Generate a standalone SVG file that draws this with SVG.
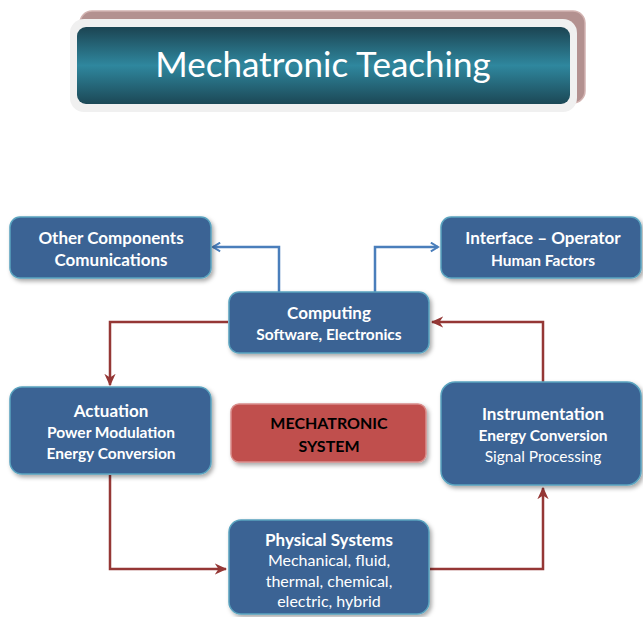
<svg xmlns="http://www.w3.org/2000/svg" width="643" height="617" viewBox="0 0 643 617">
<style>
.box{fill:#3a6494;stroke:#5aa3bf;stroke-width:1.5;filter:url(#sh)}
.red{fill:#c0504d;stroke:#d98c8a;stroke-width:1.5;filter:url(#sh)}
text{font-family:Lato,"Open Sans","Liberation Sans",sans-serif;text-anchor:middle;fill:#ffffff}
.b16{font-size:17px;font-weight:bold}
.b14{font-size:15.5px;font-weight:bold}
.r14{font-size:15.5px}
.r16{font-size:16px}
.blk{fill:#000000;font-size:16px}
.bl{fill:none;stroke:#4a7ebb;stroke-width:2.5}
.rd{fill:none;stroke:#953735;stroke-width:2.5}
</style>
<defs>
<filter id="sh" x="-10%" y="-10%" width="125%" height="130%">
<feDropShadow dx="2" dy="2.5" stdDeviation="2" flood-color="#000" flood-opacity="0.35"/>
</filter>
<linearGradient id="tg" x1="0" y1="0" x2="0" y2="1">
<stop offset="0" stop-color="#1c4452"/>
<stop offset="0.5" stop-color="#2f879e"/>
<stop offset="1" stop-color="#1c4856"/>
</linearGradient>
<marker id="ab" viewBox="0 0 10 10" refX="8.5" refY="5" markerWidth="4.4" markerHeight="4.4" orient="auto" markerUnits="strokeWidth">
<path d="M2,1 L8.5,5 L2,9" fill="none" stroke="#4a7ebb" stroke-width="1.8"/>
</marker>
<marker id="ar" viewBox="0 0 10 10" refX="9" refY="5" markerWidth="5" markerHeight="5" orient="auto" markerUnits="strokeWidth">
<path d="M0,0.5 L10,5 L0,9.5 L3,5 Z" fill="#953735"/>
</marker>
</defs>

<g id="title">
<rect x="80" y="11" width="505" height="92" rx="12" fill="#b39190" stroke="#d2b3b1" stroke-width="1.5"/>
<rect x="70" y="19" width="507" height="93" rx="14" fill="#f0f0f0"/>
<rect x="77" y="27" width="493" height="77" rx="9" fill="url(#tg)"/>
<text x="323" y="77" style="font-size:35px">Mechatronic Teaching</text>
</g>

<g id="connectors">
<path class="bl" d="M279,292 V247 H213" marker-end="url(#ab)"/>
<path class="bl" d="M375,292 V247 H438" marker-end="url(#ab)"/>
<path class="rd" d="M228,322 H110 V385" marker-end="url(#ar)"/>
<path class="rd" d="M110,475 V569 H226" marker-end="url(#ar)"/>
<path class="rd" d="M430,569 H543 V488" marker-end="url(#ar)"/>
<path class="rd" d="M543,382 V322 H432" marker-end="url(#ar)"/>
</g>

<g id="other">
<rect class="box" x="10" y="217" width="201" height="61" rx="10"/>
<text class="b16" x="111" y="244">Other Components</text>
<text class="b16" x="111" y="266">Comunications</text>
</g>

<g id="interface">
<rect class="box" x="441" y="217" width="200" height="61" rx="10"/>
<text class="b16" x="543" y="244">Interface – Operator</text>
<text class="b14" x="543" y="266">Human Factors</text>
</g>

<g id="computing">
<rect class="box" x="229" y="292" width="200" height="61" rx="10"/>
<text class="b16" x="329" y="319">Computing</text>
<text class="b14" x="329" y="340">Software, Electronics</text>
</g>

<g id="actuation">
<rect class="box" x="10" y="387" width="201" height="87" rx="12"/>
<text class="b16" x="111" y="417">Actuation</text>
<text class="b14" x="111" y="438">Power Modulation</text>
<text class="b14" x="111" y="459">Energy Conversion</text>
</g>

<g id="mechatronic">
<rect class="red" x="231" y="404" width="195" height="58" rx="8"/>
<text class="b16 blk" x="329" y="429">MECHATRONIC</text>
<text class="b16 blk" x="329" y="452">SYSTEM</text>
</g>

<g id="instrumentation">
<rect class="box" x="441" y="382" width="200" height="103" rx="14"/>
<text class="b16" x="543" y="420">Instrumentation</text>
<text class="b14" x="543" y="441">Energy Conversion</text>
<text class="r14" x="543" y="462">Signal Processing</text>
</g>

<g id="physical">
<rect class="box" x="229" y="520" width="200" height="94" rx="12"/>
<text class="b16" x="329" y="546">Physical Systems</text>
<text class="r16" x="329" y="566">Mechanical, fluid,</text>
<text class="r16" x="329" y="587">thermal, chemical,</text>
<text class="r16" x="329" y="607">electric, hybrid</text>
</g>
</svg>
